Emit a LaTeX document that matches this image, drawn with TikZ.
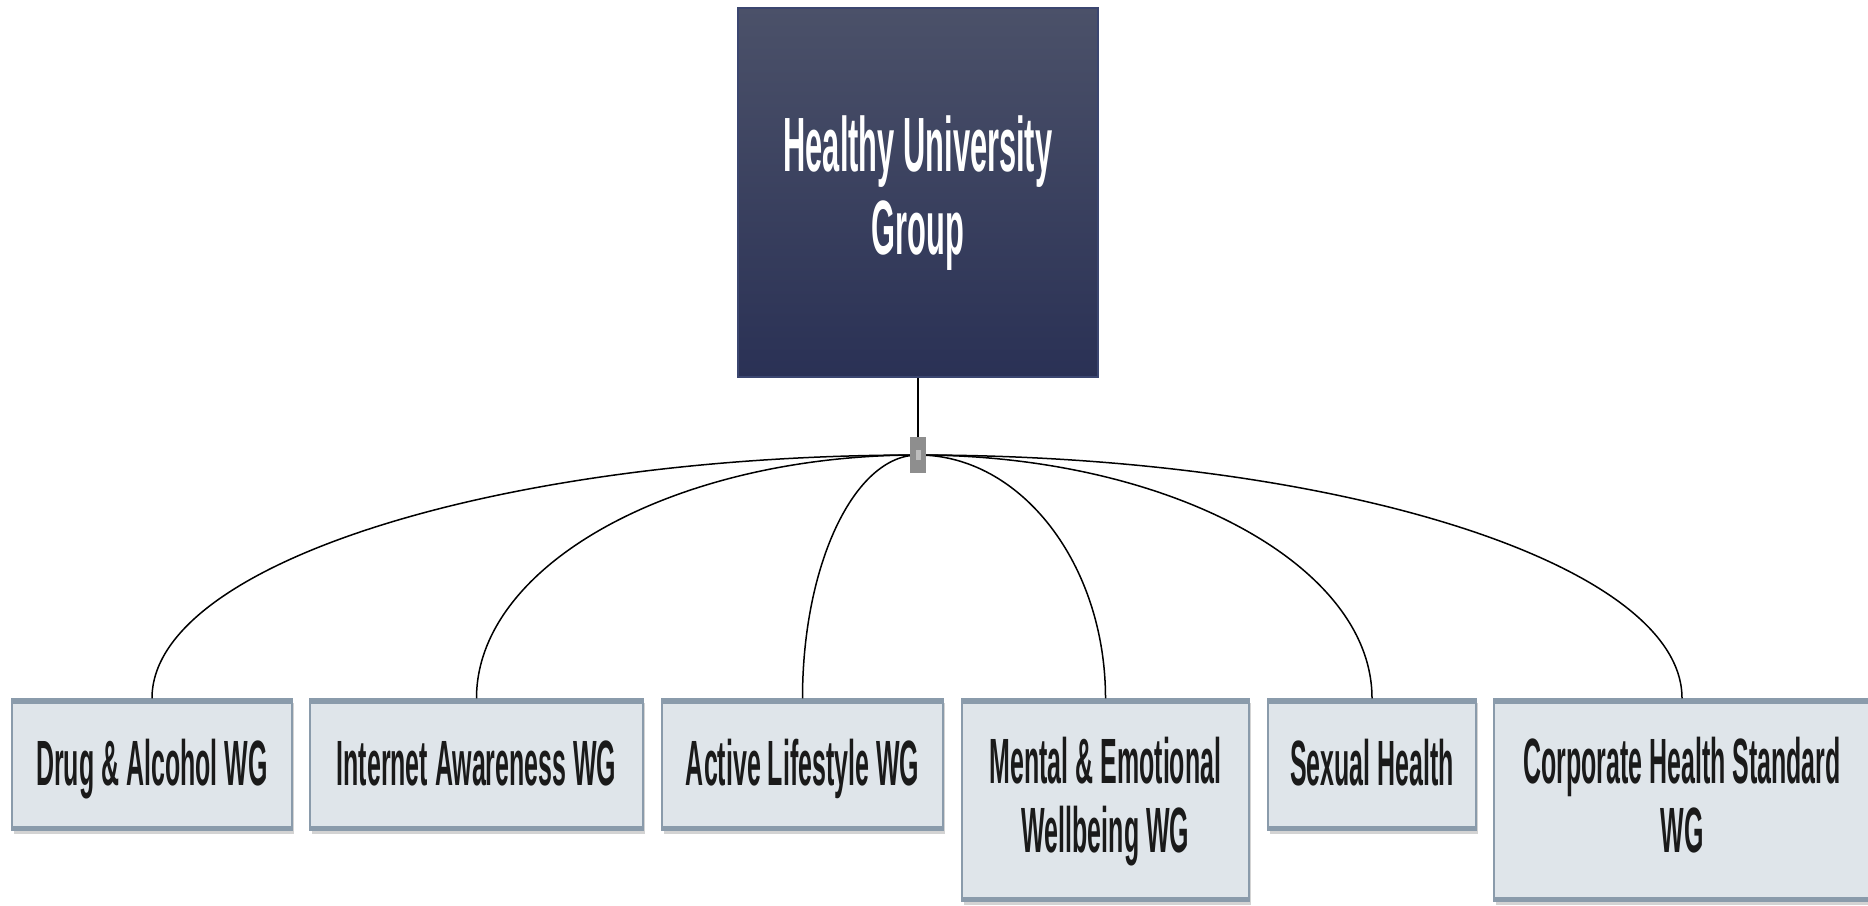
\documentclass[tikz,border=0pt]{standalone}
\usepackage{fontspec}
\newfontfamily\boxfont[FakeStretch=0.39]{Liberation Sans Bold}
\newfontfamily\headfont[FakeStretch=0.40]{Liberation Sans Bold}
\usetikzlibrary{calc,shadows}
\definecolor{boxfill}{HTML}{DFE5EA}
\definecolor{boxborder}{HTML}{8A9BAB}
\definecolor{shadowc}{HTML}{D3D3D3}
\definecolor{textc}{HTML}{1A1A1A}
\definecolor{topA}{HTML}{4B5169}
\definecolor{topB}{HTML}{2A3155}
\definecolor{topborder}{HTML}{3B4670}
\definecolor{juncc}{HTML}{8E8E8E}
\definecolor{junchi}{HTML}{BDBDBD}
\begin{document}
\begin{tikzpicture}[x=1pt,y=-1pt,
  wg/.style={rectangle, draw=boxborder, line width=1.5pt, fill=boxfill, inner sep=0pt,
    minimum height=131pt,
    drop shadow={shadow xshift=2pt, shadow yshift=-4pt, fill=shadowc, opacity=1},
    path picture={
      \fill[boxborder] (path picture bounding box.north west) rectangle ([yshift=-4.5pt]path picture bounding box.north east);
      \fill[boxborder] (path picture bounding box.south west) rectangle ([yshift=4.5pt]path picture bounding box.south east);}},
  wgtall/.style={wg, minimum height=202pt},
  wgtext/.style={font=\boxfont\fontsize{64}{69}\selectfont, text=textc, align=center, inner sep=0pt},
  link/.style={line width=1.5pt, black},
]
\useasboundingbox (0,0) rectangle (1868,905);
\fill[white] (0,0) rectangle (1868,905);

% head box
\node[rectangle, draw=topborder, line width=1.5pt, top color=topA, bottom color=topB,
      minimum width=360pt, minimum height=369pt, inner sep=0pt] (hug) at (918,192.5) {};
\node[font=\headfont\fontsize{77}{83}\selectfont, text=white, align=center, inner sep=0pt]
      (hugt) at ($(hug.center)+(0,1)$) {Healthy University\\Group};

% working group boxes
\node[wg, minimum width=280pt] (b1) at (152,764.5) {};
\node[wg, minimum width=333pt] (b2) at (476.5,764.5) {};
\node[wg, minimum width=281pt] (b3) at (802.5,764.5) {};
\node[wgtall, minimum width=287pt] (b4) at (1105.5,800) {};
\node[wg, minimum width=208pt] (b5) at (1372,764.5) {};
\node[wgtall, minimum width=376pt] (b6) at (1682,800) {};

\node[wgtext, anchor=base] (t1) at ($(b1.center)+(0,20.5)$) {Drug \& Alcohol WG};
\node[wgtext, anchor=base] (t2) at ($(b2.center)+(0,20.5)$) {Internet Awareness WG};
\node[wgtext, anchor=base] (t3) at ($(b3.center)+(0,20.5)$) {Active Lifestyle WG};
\node[wgtext] (t4) at ($(b4.center)+(0,2)$) {Mental \& Emotional\\Wellbeing WG};
\node[wgtext, anchor=base] (t5) at ($(b5.center)+(0,20.5)$) {Sexual Health};
\node[wgtext] (t6) at ($(b6.center)+(0,-5)$) {Corporate Health Standard\\WG};

% connectors
\coordinate (jc) at (918,455);
\foreach \bx in {b1,b2,b3,b4,b5,b6}{
  \draw[link] (jc) .. controls ($(jc)!0.55!(jc -| \bx.north)$) and ($(\bx.north)!0.55!(jc -| \bx.north)$) .. (\bx.north);
}
\node[rectangle, fill=juncc, minimum width=16pt, minimum height=36pt, inner sep=0pt,
      path picture={\fill[junchi] ([xshift=-2.5pt,yshift=-5pt]path picture bounding box.center) rectangle ([xshift=2.5pt,yshift=5pt]path picture bounding box.center);}] (j) at (jc) {};
\draw[link] (hug.south) -- (j.north);
\end{tikzpicture}
\end{document}
